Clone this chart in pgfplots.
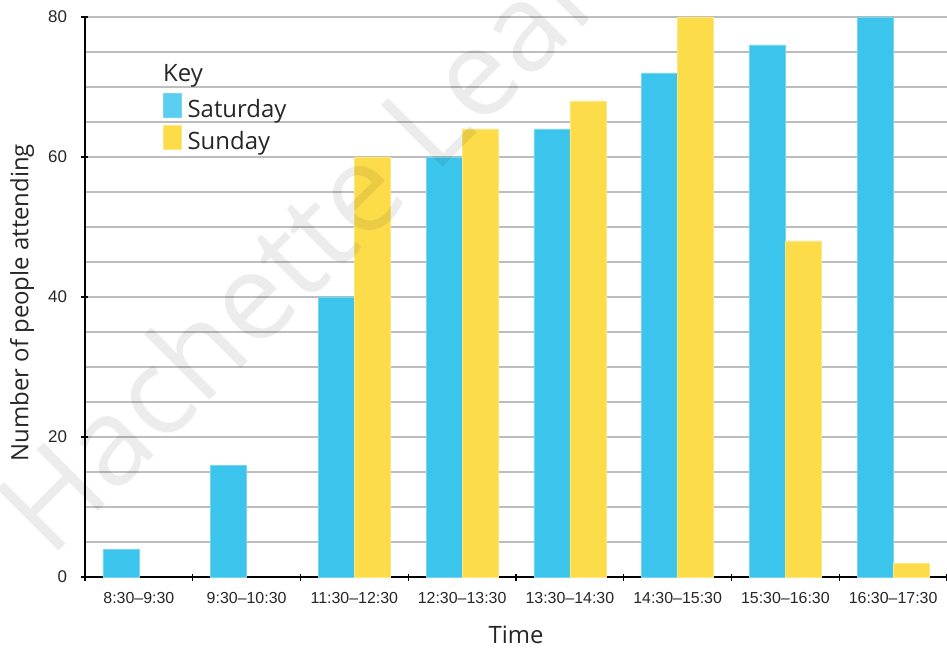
\documentclass[border=0pt]{standalone}
\usepackage{fontspec}
\setmainfont{Open Sans}
\newfontfamily\arialfont[Ligatures=TeX]{Liberation Sans}
\usepackage{pgfplots}
\pgfplotsset{compat=1.18}
\definecolor{satc}{HTML}{3CC5EC}
\definecolor{sunc}{HTML}{FDDC4A}
\definecolor{gridc}{HTML}{BDBDBD}
\begin{document}
\begin{tikzpicture}
\path[use as bounding box] (-85bp,-71bp) rectangle (862bp,577bp);
\begin{axis}[
  scale only axis, width=862bp, height=560bp,
  at={(0,0)}, anchor=south west,
  xmin=-0.5, xmax=7.5, ymin=0, ymax=80,
  axis lines*=left,
  axis line style={line width=1.8bp, black},
  clip=false,
  xtick={-0.5,0.5,...,7.5}, xticklabels={},
  extra x ticks={0,1,2,3,4,5,6,7},
  extra x tick labels={8:30–9:30,9:30–10:30,11:30–12:30,12:30–13:30,13:30–14:30,14:30–15:30,15:30–16:30,16:30–17:30},
  extra x tick style={major tick length=0pt, grid=none,
     xticklabel style={yshift=-12bp}},
  ytick={0,20,40,60,80}, minor ytick={5,10,15,25,30,35,45,50,55,65,70,75},
  ymajorgrids, yminorgrids,
  major grid style={gridc, line width=1.3bp},
  minor grid style={gridc, line width=1.3bp},
  tick align=center, major tick length=7bp, minor tick length=0pt,
  tick style={black, line width=1.3bp},
  /pgf/number format/assume math mode=true,
  ticklabel style={font=\arialfont\fontsize{16}{18}\selectfont, text=black!85},
  yticklabel style={xshift=-11bp, font=\arialfont\fontsize{17}{18}\selectfont},
  ylabel={Number of people attending},
  xlabel={Time},
  label style={font=\fontsize{24}{28}\selectfont, text=black!85},
  ylabel style={at={(axis description cs:-0.073,0.49)}, anchor=center},
  xlabel style={at={(axis description cs:0.5,-0.1036)}, anchor=center},
  legend style={draw=none, fill=none, inner sep=0pt, outer sep=0pt,
     at={(rel axis cs:0.0905,0.8643)}, anchor=north west,
     font=\fontsize{24}{28}\selectfont, text=black!85,
     column sep=6bp, row sep=6bp,
     nodes={inner sep=0pt}},
  legend cell align=left,
]
\addplot[ybar, bar width=36bp, bar shift=-18bp, fill=satc, draw=satc!70!white, line width=0.6bp,
  area legend,
  legend image code/.code={\fill[fill=satc!85!white] (0bp,-8bp) rectangle (18bp,16bp);}]
  coordinates {(0,4) (1,16) (2,40) (3,60) (4,64) (5,72) (6,76) (7,80)};
\addlegendentry{Saturday}
\addplot[ybar, bar width=36bp, bar shift=18bp, fill=sunc, draw=sunc!70!white, line width=0.6bp,
  area legend,
  legend image code/.code={\fill[fill=sunc] (0bp,-8bp) rectangle (18bp,16bp);}]
  coordinates {(2,60) (3,64) (4,68) (5,80) (6,48) (7,2)};
\addlegendentry{Sunday}
\node[anchor=base west, inner sep=0pt, font=\fontsize{24}{28}\selectfont, text=black!85]
  at (rel axis cs:0.0905,0.8857) {Key};
\end{axis}
\node[anchor=base west, inner sep=0pt, rotate=45, font=\fontsize{122}{130}\selectfont,
  text=black, opacity=0.075] at (-35bp,17bp) {Hachette Learning};
\end{tikzpicture}
\end{document}
